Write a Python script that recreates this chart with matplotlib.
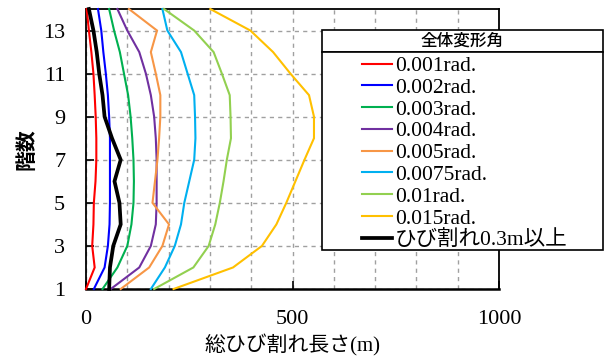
import matplotlib
matplotlib.use("Agg")
import matplotlib.pyplot as plt
from matplotlib.patches import Rectangle
import numpy as np

floors = list(range(1, 15))
labels = ["0.001rad.", "0.002rad.", "0.003rad.", "0.004rad.", "0.005rad.",
          "0.0075rad.", "0.01rad.", "0.015rad.", "ひび割れ0.3m以上"]
colors = ["#FF0000", "#0000FF", "#00B050", "#7030A0", "#F79646",
          "#00B0F0", "#92D050", "#FFC000", "#000000"]

r001 = [0, 21, 15, 18, 19, 23, 25, 25, 23.5, 21, 18, 13, 7, 1.6]
r002 = [19, 45, 53, 57, 58, 58, 58, 58, 56, 53, 48, 42, 37, 29]
r003 = [40, 76, 100, 110, 115, 116, 115, 112, 108, 102, 92, 82, 68, 56]
r004 = [60, 129, 157, 169, 171, 171, 171, 169, 165, 157, 145, 129, 100, 76]
r005 = [84, 153, 185, 201, 161, 167, 173, 177, 180, 180, 169, 157, 172, 104]
r0075 = [157, 191, 215, 230, 238, 250, 262, 265, 264, 262, 246, 230, 197, 185]
r01 = [165, 260, 297, 313, 324, 333, 341, 351, 350, 348, 329, 309, 262, 189]
r015 = [212, 356, 426, 461, 485, 507, 529, 552, 552, 540, 495, 453, 398, 301]
crack03 = [56, 58, 66, 84, 81, 69, 84, 63, 45, 40, 32, 26, 18, 7]

series = [r001, r002, r003, r004, r005, r0075, r01, r015, crack03]

xticks = [0, 500, 1000]
yticks = [1, 3, 5, 7, 9, 11, 13]

SERIF = ["Liberation Serif", "Noto Sans CJK JP", "DejaVu Sans"]
CJK = ["Noto Sans CJK JP", "DejaVu Sans"]

fig = plt.figure(figsize=(6.06, 3.56), dpi=100)
W, H = 606, 356
ax = fig.add_axes([86 / W, 1 - 289 / H, (499 - 86) / W, (289 - 9) / H])

for vals, c, lab in zip(series, colors, labels):
    lw = 2.7 if c == "#000000" else 1.5
    ax.plot(vals, floors, color=c, lw=lw, label=lab, solid_joinstyle="miter",
            clip_on=False, zorder=3)

ax.set_xlim(0, 1000)
ax.set_ylim(1, 14)
ax.set_xticks(xticks)
ax.set_xticks(np.arange(100, 1000, 100), minor=True)
ax.set_yticks(yticks)
ax.tick_params(axis="both", which="major", direction="in", length=6, width=1.2,
               pad=15, labelsize=16)
ax.tick_params(axis="x", which="minor", length=0)
for lab in ax.get_xticklabels() + ax.get_yticklabels():
    lab.set_fontfamily(SERIF)
ax.grid(True, which="both", axis="x", color="#A0A0A0", ls=(0, (3, 3)), lw=1.0)
ax.grid(True, which="major", axis="y", color="#A0A0A0", ls=(0, (3, 3)), lw=1.0)
ax.set_axisbelow(True)
for s in ax.spines.values():
    s.set_linewidth(1.3)
ax.spines["bottom"].set_linewidth(1.8)

ax.set_xlabel("総ひび割れ長さ(m)", fontsize=15, family=SERIF, labelpad=4)
ax.set_ylabel("階数", fontsize=15, family=CJK, fontweight="bold", labelpad=5)

# Legend frames
fig.patches.append(Rectangle((322 / W, 1 - 52 / H), (603 - 322) / W, (52 - 30) / H,
                             transform=fig.transFigure, fc="white", ec="black",
                             lw=1.2, zorder=5))
fig.patches.append(Rectangle((322 / W, 1 - 250 / H), (603 - 322) / W, (250 - 52) / H,
                             transform=fig.transFigure, fc="white", ec="black",
                             lw=1.2, zorder=5))
fig.text(462 / W, 1 - 41 / H, "全体変形角", ha="center", va="center",
         fontsize=12, family=CJK, fontweight="medium", zorder=6)

handles, labs = ax.get_legend_handles_labels()
leg = fig.legend(handles, labs, loc="upper left", bbox_to_anchor=(362 / W, 1 - 56 / H),
                 frameon=False, borderpad=0, borderaxespad=0, labelspacing=0.08,
                 handlelength=1.4, handletextpad=0.12,
                 prop={"family": SERIF, "size": 15.5})
leg.set_zorder(7)

fig.savefig("out.png", dpi=100)
